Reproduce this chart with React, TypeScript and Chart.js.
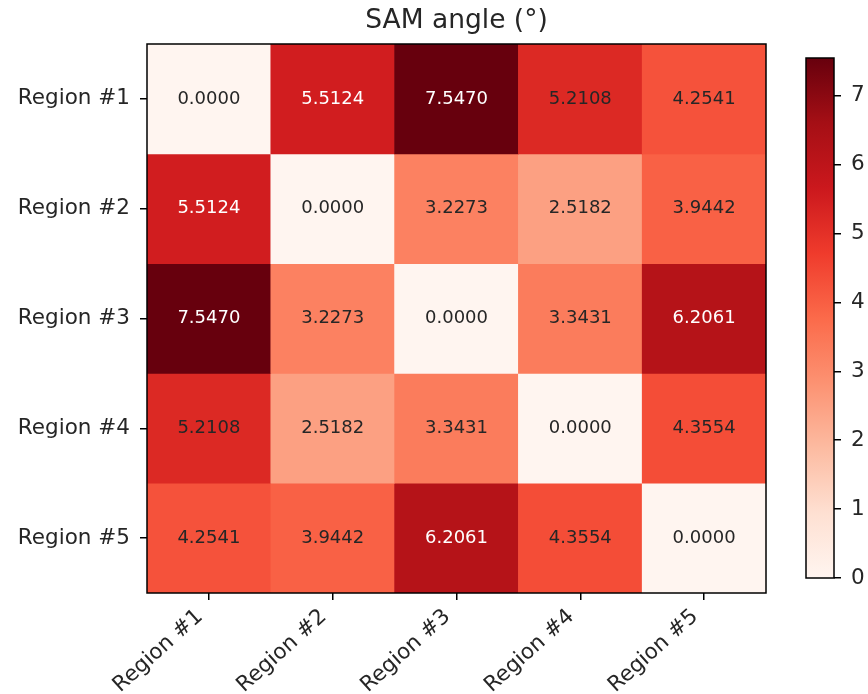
import React, { useEffect, useRef } from 'react';
import { Chart, registerables } from 'chart.js';

Chart.register(...registerables);

// ---------------- data ----------------
const regions = ['Region #1', 'Region #2', 'Region #3', 'Region #4', 'Region #5'];
const rowRegion1 = [0.0, 5.5124, 7.547, 5.2108, 4.2541];
const rowRegion2 = [5.5124, 0.0, 3.2273, 2.5182, 3.9442];
const rowRegion3 = [7.547, 3.2273, 0.0, 3.3431, 6.2061];
const rowRegion4 = [5.2108, 2.5182, 3.3431, 0.0, 4.3554];
const rowRegion5 = [4.2541, 3.9442, 6.2061, 4.3554, 0.0];
const samValues = [rowRegion1, rowRegion2, rowRegion3, rowRegion4, rowRegion5];
const colorbarTicks = [0, 1, 2, 3, 4, 5, 6, 7];
const titleText = 'SAM angle (°)';
const VMIN = 0;
const VMAX = 7.547;

// ---------------- colormap (matplotlib "Reds") ----------------
const REDS = ['#fff5f0', '#fee0d2', '#fcbba1', '#fc9272', '#fb6a4a', '#ef3b2c', '#cb181d', '#a50f15', '#67000d'];
function hexToRgb(h: string) {
  return [parseInt(h.slice(1, 3), 16), parseInt(h.slice(3, 5), 16), parseInt(h.slice(5, 7), 16)];
}
const REDS_RGB = REDS.map(hexToRgb);
function redsColor(t: number) {
  const c = Math.max(0, Math.min(1, t));
  const pos = c * (REDS_RGB.length - 1);
  const i = Math.min(REDS_RGB.length - 2, Math.floor(pos));
  const f = pos - i;
  const a = REDS_RGB[i];
  const b = REDS_RGB[i + 1];
  const rgb = a.map((v, k) => Math.round(v + (b[k] - v) * f));
  return `rgb(${rgb[0]},${rgb[1]},${rgb[2]})`;
}

const FONT = 'DejaVu Sans';
const TEXT = '#262626';

const framePlugin = {
  id: 'frame',
  afterDraw(chart: any) {
    const { ctx, chartArea } = chart;
    ctx.save();
    ctx.strokeStyle = '#000';
    ctx.lineWidth = 1.5;
    ctx.strokeRect(chartArea.left, chartArea.top, chartArea.right - chartArea.left, chartArea.bottom - chartArea.top);
    ctx.restore();
  },
};

const cellLabelPlugin = {
  id: 'cellLabels',
  afterDatasetsDraw(chart: any) {
    const { ctx } = chart;
    ctx.save();
    ctx.font = `18px "${FONT}"`;
    ctx.textAlign = 'center';
    ctx.textBaseline = 'middle';
    chart.data.datasets.forEach((_ds: any, i: number) => {
      const meta = chart.getDatasetMeta(i);
      meta.data.forEach((el: any, j: number) => {
        const { x, y, base } = el.getProps(['x', 'y', 'base'], true);
        const v = samValues[i][j];
        const t = (v - VMIN) / (VMAX - VMIN);
        ctx.fillStyle = t > 0.7 ? '#ffffff' : TEXT;
        ctx.fillText(v.toFixed(4), x, (y + base) / 2);
      });
    });
    ctx.restore();
  },
};

export default function App() {
  const mainRef = useRef<HTMLCanvasElement | null>(null);
  const barRef = useRef<HTMLCanvasElement | null>(null);

  useEffect(() => {
    Chart.defaults.font.family = FONT;
    const tickFont = { family: FONT, size: 21.5 };

    const main = new Chart(mainRef.current as HTMLCanvasElement, {
      type: 'bar',
      data: {
        labels: regions,
        datasets: samValues.map((row, i) => ({
          label: regions[i],
          data: row.map(() => [i - 0.5, i + 0.5]),
          backgroundColor: row.map((v) => redsColor((v - VMIN) / (VMAX - VMIN))),
          borderWidth: 0,
          barPercentage: 1,
          categoryPercentage: 1,
          grouped: false,
        })) as any,
      },
      options: {
        responsive: false,
        animation: false,
        layout: { padding: { left: 0, right: 14, top: 0, bottom: 0 } },
        plugins: {
          legend: { display: false },
          tooltip: { enabled: false },
          title: {
            display: true,
            text: titleText,
            fullSize: false,
            color: TEXT,
            font: { family: FONT, size: 26.5, weight: 'normal' },
            padding: { top: 5, bottom: 7.2 },
          } as any,
        },
        scales: {
          x: {
            type: 'category',
            offset: true,
            grid: { display: true, drawOnChartArea: false, drawTicks: true, tickLength: 7, color: '#000', lineWidth: 1.5, offset: false },
            border: { display: false },
            ticks: { font: tickFont, color: TEXT, minRotation: 42, maxRotation: 42, padding: 4, labelOffset: -9, autoSkip: false },
            afterFit: (s: any) => { s.height = 101; },
          },
          y: {
            type: 'linear',
            reverse: true,
            min: -0.5,
            max: 4.5,
            afterBuildTicks: (s: any) => { s.ticks = regions.map((_, i) => ({ value: i })); },
            ticks: { font: tickFont, color: TEXT, padding: 10, autoSkip: false, callback: (v: any) => regions[v as number] },
            grid: { display: true, drawOnChartArea: false, drawTicks: true, tickLength: 7, color: '#000', lineWidth: 1.5 },
            border: { display: false },
            afterFit: (s: any) => { s.width = 147; },
          },
        },
      } as any,
      plugins: [cellLabelPlugin, framePlugin],
    });

    const bar = new Chart(barRef.current as HTMLCanvasElement, {
      type: 'bar',
      data: {
        labels: [''],
        datasets: [
          {
            data: [[VMIN, VMAX]] as any,
            borderWidth: 0,
            barPercentage: 1,
            categoryPercentage: 1,
            backgroundColor: (c: any) => {
              const area = c.chart.chartArea;
              if (!area) return REDS[4];
              const g = c.chart.ctx.createLinearGradient(0, area.bottom, 0, area.top);
              REDS.forEach((col, k) => g.addColorStop(k / (REDS.length - 1), col));
              return g;
            },
          },
        ],
      },
      options: {
        responsive: false,
        animation: false,
        layout: { padding: { left: 26, right: 0, top: 58, bottom: 116 } },
        plugins: { legend: { display: false }, tooltip: { enabled: false } },
        scales: {
          x: { display: false },
          y: {
            position: 'right',
            min: VMIN,
            max: VMAX,
            afterBuildTicks: (s: any) => { s.ticks = colorbarTicks.map((v) => ({ value: v })); },
            ticks: { font: tickFont, color: TEXT, padding: 10, autoSkip: false },
            grid: { display: true, drawOnChartArea: false, drawTicks: true, tickLength: 7, color: '#000', lineWidth: 1.5 },
            border: { display: false },
            afterFit: (s: any) => { s.width = 34; },
          },
        },
      } as any,
      plugins: [framePlugin],
    });

    return () => {
      main.destroy();
      bar.destroy();
    };
  }, []);

  return (
    <div style={{ position: 'absolute', left: 0, top: 0, width: 868, height: 694, background: '#fff' }}>
      <canvas ref={mainRef} width={780} height={694} style={{ position: 'absolute', left: 0, top: 0, display: 'block' }} />
      <canvas ref={barRef} width={88} height={694} style={{ position: 'absolute', left: 780, top: 0, display: 'block' }} />
    </div>
  );
}
